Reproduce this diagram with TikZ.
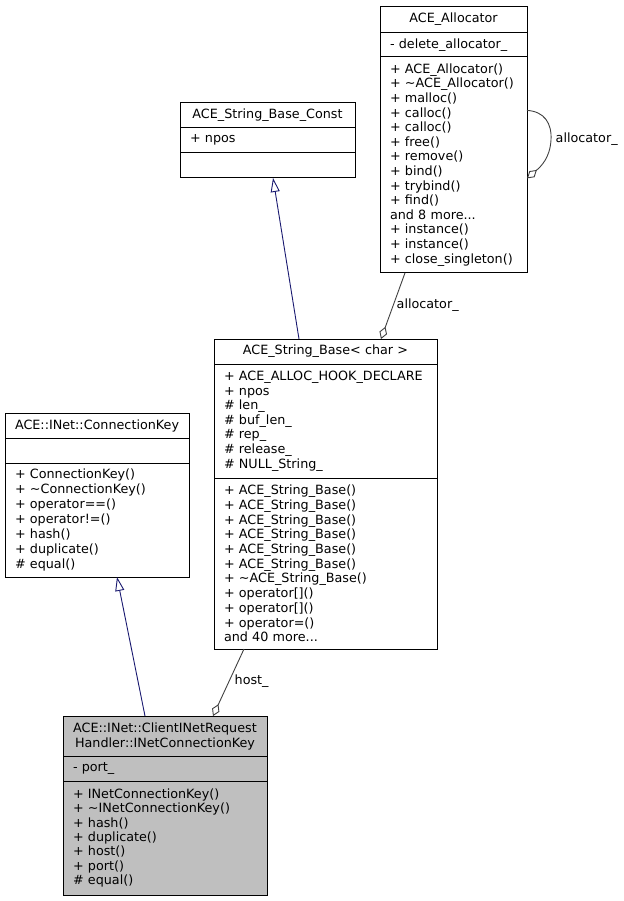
\documentclass[tikz,border=0pt]{standalone}
\usepackage{fontspec}
\setmainfont{DejaVu Sans}
\usetikzlibrary{arrows.meta,calc}
\definecolor{edgegray}{HTML}{404040}
\definecolor{inhblue}{HTML}{191970}
\definecolor{fillgray}{HTML}{BFBFBF}
\tikzset{
  comp/.style={draw=black, line width=1pt, anchor=north west, inner xsep=10pt, inner ysep=0pt,
    outer sep=0pt, font=\fontsize{12.75}{14.6}\selectfont},
  ctitle/.style={comp, align=center},
  cmem/.style={comp, align=left},
  inh/.style={draw=inhblue, line width=0.9pt, -{Triangle[open,length=14pt,width=9pt]}},
  agg/.style={draw=edgegray, line width=0.9pt, -{Diamond[open,length=13pt,width=8pt]}},
  elabel/.style={anchor=west, inner sep=0pt, font=\fontsize{12.75}{14.6}\selectfont},
}
\begin{document}
\begin{tikzpicture}[x=1pt,y=-1pt]
\useasboundingbox (0,0) rectangle (623,901);

% ACE_Allocator
\node[ctitle, text width=127pt, minimum height=25.7pt] (allocT) at (380,6.8) {ACE\_Allocator};
\node[cmem, text width=127pt, minimum height=24.4pt] (allocA) at (allocT.south west) {- delete\_allocator\_};
\node[cmem, text width=127pt, minimum height=216pt, font=\fontsize{12.75}{14.6}\selectfont] (allocM) at (allocA.south west) {%
+ ACE\_Allocator()\\
+ \textasciitilde ACE\_Allocator()\\
+ malloc()\\
+ calloc()\\
+ calloc()\\
+ free()\\
+ remove()\\
+ bind()\\
+ trybind()\\
+ find()\\
and 8 more...\\
+ instance()\\
+ instance()\\
+ close\_singleton()};

% ACE_String_Base_Const
\node[ctitle, text width=155pt, minimum height=25pt] (sbcT) at (180,103) {ACE\_String\_Base\_Const};
\node[cmem, text width=155pt, minimum height=24.5pt] (sbcA) at (sbcT.south west) {+ npos};
\node[cmem, text width=155pt, minimum height=25.5pt] (sbcM) at (sbcA.south west) {};

% ACE_String_Base< char >
\node[ctitle, text width=203pt, minimum height=25pt] (sbT) at (214,339) {ACE\_String\_Base< char >};
\node[cmem, text width=203pt, minimum height=114pt] (sbA) at (sbT.south west) {%
+ ACE\_ALLOC\_HOOK\_DECLARE\\
+ npos\\
\# len\_\\
\# buf\_len\_\\
\# rep\_\\
\# release\_\\
\# NULL\_String\_};
\node[cmem, text width=203pt, minimum height=171pt, font=\fontsize{12.75}{14.7}\selectfont] (sbM) at (sbA.south west) {%
+ ACE\_String\_Base()\\
+ ACE\_String\_Base()\\
+ ACE\_String\_Base()\\
+ ACE\_String\_Base()\\
+ ACE\_String\_Base()\\
+ ACE\_String\_Base()\\
+ \textasciitilde ACE\_String\_Base()\\
+ operator[]()\\
+ operator[]()\\
+ operator=()\\
and 40 more...};

% ACE::INet::ConnectionKey
\node[ctitle, text width=164pt, minimum height=25pt] (ckT) at (5,413) {ACE::INet::ConnectionKey};
\node[cmem, text width=164pt, minimum height=25pt] (ckA) at (ckT.south west) {};
\node[cmem, text width=164pt, minimum height=114pt, font=\fontsize{12.75}{15}\selectfont] (ckM) at (ckA.south west) {%
+ ConnectionKey()\\
+ \textasciitilde ConnectionKey()\\
+ operator==()\\
+ operator!=()\\
+ hash()\\
+ duplicate()\\
\# equal()};

% ACE::INet::ClientINetRequestHandler::INetConnectionKey
\node[ctitle, fill=fillgray, text width=184pt, minimum height=40pt, font=\fontsize{12.75}{15}\selectfont] (ickT) at (63,716) {ACE::INet::ClientINetRequest\\Handler::INetConnectionKey};
\node[cmem, fill=fillgray, text width=184pt, minimum height=25pt] (ickA) at (ickT.south west) {- port\_};
\node[cmem, fill=fillgray, text width=184pt, minimum height=114pt, font=\fontsize{12.75}{14.45}\selectfont] (ickM) at (ickA.south west) {%
+ INetConnectionKey()\\
+ \textasciitilde INetConnectionKey()\\
+ hash()\\
+ duplicate()\\
+ host()\\
+ port()\\
\# equal()};

% connector end points
\coordinate (e1s) at ($(sbT.north west)+(85,0)$);
\coordinate (e1t) at ($(sbcM.south west)+(93,0)$);
\coordinate (e2s) at ($(ickT.north west)+(82,0)$);
\coordinate (e2t) at ($(ckM.south west)+(112,0)$);
\coordinate (e3s) at ($(allocM.south west)+(25,0)$);
\coordinate (e3t) at ($(sbT.north west)+(167,0)$);
\coordinate (e4s) at ($(sbM.south west)+(30,0)$);
\coordinate (e4t) at ($(ickT.north west)+(150,0)$);
\coordinate (e5s) at ($(allocM.north east)+(0,53.5)$);
\coordinate (e5m) at ($(allocM.north east)+(24,83)$);
\coordinate (e5t) at ($(allocM.north east)+(0,121.5)$);

% connectors
\draw[inh] (e1s) -- (e1t);
\draw[inh] (e2s) -- (e2t);
\draw[agg] (e3s) -- (e3t);
\draw[agg] (e4s) -- (e4t);
\draw[agg] (e5s) .. controls ($(e5s)+(17,1)$) and ($(e5m)+(1,-17)$) .. (e5m)
  .. controls ($(e5m)+(-1,18)$) and ($(e5t)+(14,-12)$) .. (e5t);

% labels
\node[elabel] (l1) at (555.5,139) {allocator\_};
\node[elabel] (l2) at (396.5,305) {allocator\_};
\node[elabel] (l3) at (234.5,681.5) {host\_};
\end{tikzpicture}
\end{document}
